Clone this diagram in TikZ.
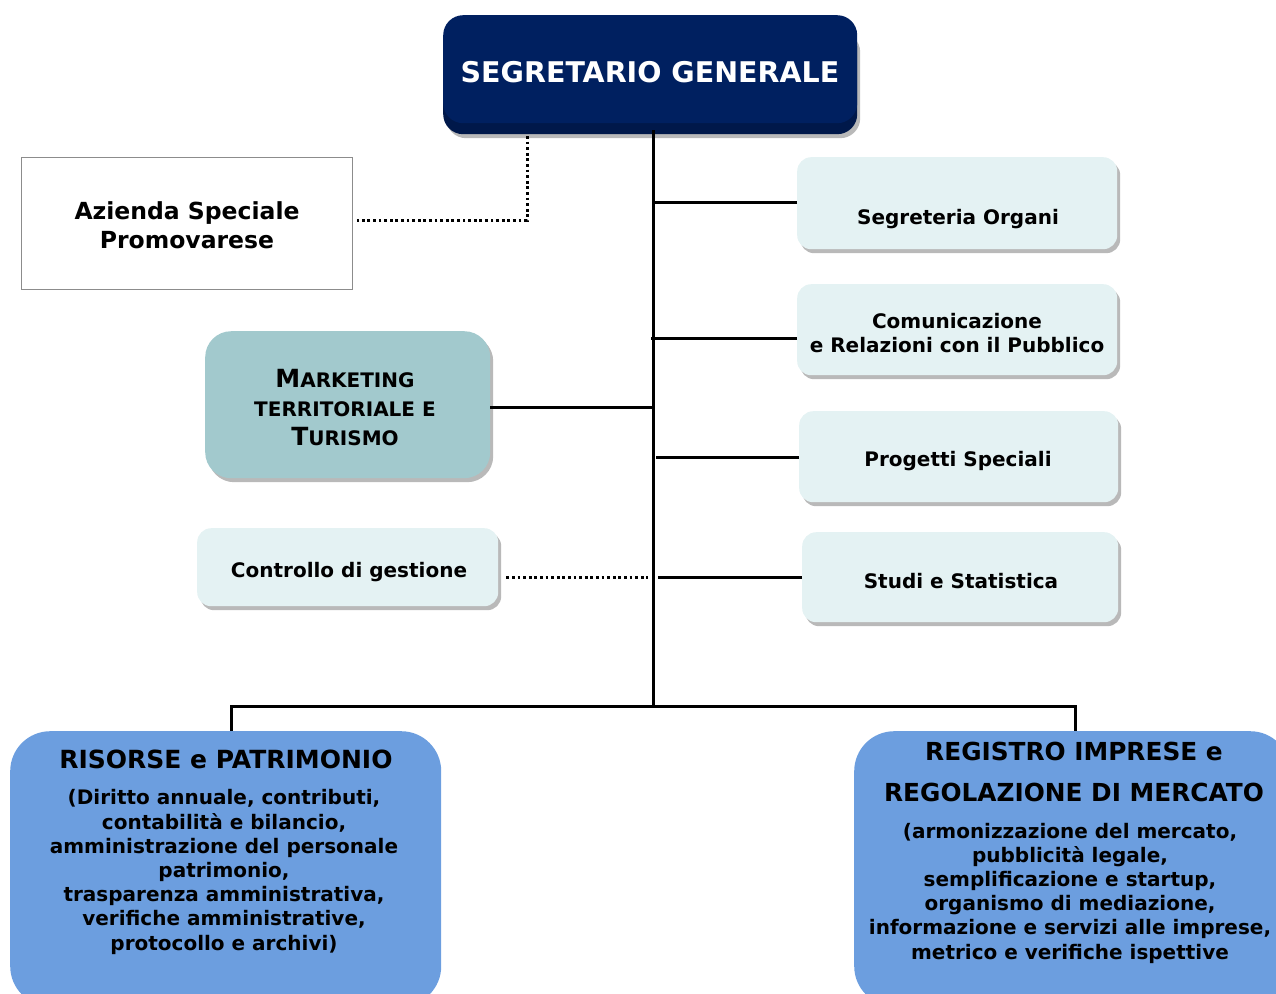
\documentclass[tikz,border=0pt]{standalone}
\usepackage{fontspec}
\setmainfont{DejaVu Sans}
\usetikzlibrary{shadows}
\definecolor{navy}{RGB}{0,32,96}
\definecolor{navydark}{RGB}{0,24,74}
\definecolor{lcyan}{RGB}{228,242,243}
\definecolor{teal}{RGB}{162,201,205}
\definecolor{mblue}{RGB}{108,158,223}
\newcommand{\fs}[2]{\fontsize{#1}{#2}\selectfont}
\begin{document}
\begin{tikzpicture}[x=1pt,y=-1pt,font=\bfseries,
  shd/.style={drop shadow={shadow xshift=3pt,shadow yshift=-4pt,opacity=0.5,fill=black!55}},
  boxbase/.style={inner sep=0pt,anchor=north west},
  lbox/.style={boxbase,fill=lcyan,rounded corners=14pt,shd},
  conn/.style={line width=3pt},
  dotconn/.style={line width=3pt,dash pattern=on 2.8pt off 2.8pt},
  txt/.style={align=center,inner sep=0pt}]
\useasboundingbox (0,0) rectangle (1276,993);
% Segretario generale
\node[boxbase,fill=navydark,rounded corners=20pt,minimum width=414pt,minimum height=106pt,shd] (sgb) at (443,28) {};
\node[boxbase,fill=navy,rounded corners=20pt,minimum width=414pt,minimum height=108pt] (sg) at (443,15) {};
\node[txt,text=white,font=\bfseries\fs{28.5}{34}] (sgt) at (650,72) {SEGRETARIO GENERALE};
% Azienda speciale
\node[boxbase,draw=black!45,line width=0.8pt,fill=white,minimum width=331pt,minimum height=132pt] (az) at (21,157) {};
\node[txt,font=\bfseries\fs{23.5}{29}] (azt) at (187,225) {Azienda Speciale\\Promovarese};
% right boxes
\node[lbox,minimum width=320pt,minimum height=92pt] (seg) at (797,157) {};
\node[txt,font=\bfseries\fs{20}{24}] (segt) at (958,219) {Segreteria Organi};
\node[lbox,minimum width=320pt,minimum height=91pt] (com) at (797,284) {};
\node[txt,font=\bfseries\fs{20}{23.5}] (comt) at (957,333) {Comunicazione\\e Relazioni con il Pubblico};
\node[lbox,minimum width=319pt,minimum height=91pt] (pro) at (799,411) {};
\node[txt,font=\bfseries\fs{20}{24}] (prot) at (958,461) {Progetti Speciali};
\node[lbox,minimum width=316pt,minimum height=90pt] (stu) at (802,532) {};
\node[txt,font=\bfseries\fs{20}{24}] (stut) at (961,581) {Studi e Statistica};
% left boxes
\node[boxbase,fill=teal,rounded corners=26pt,minimum width=285pt,minimum height=147pt,shd] (mkt) at (205,331) {};
\node[txt,font=\bfseries\fs{20}{29}] (mktt) at (345,408) {{\fs{25}{29}M}ARKETING\\TERRITORIALE E\\{\fs{25}{29}T}URISMO};
\node[lbox,minimum width=301pt,minimum height=78pt] (ctl) at (197,528) {};
\node[txt,font=\bfseries\fs{20}{24}] (ctlt) at (349,572) {Controllo di gestione};
% bottom boxes
\node[boxbase,fill=mblue,rounded corners=40pt,minimum width=431pt,minimum height=275pt] (ris) at (10,731) {};
\node[txt,font=\bfseries\fs{25}{30}] (rist) at (226,759) {RISORSE e PATRIMONIO};
\node[txt,font=\bfseries\fs{20}{24.2}] (risb) at (224,872) {(Diritto annuale, contributi,\\contabilità e bilancio,\\amministrazione del personale\\patrimonio,\\trasparenza amministrativa,\\verifiche amministrative,\\protocollo e archivi)};
\node[boxbase,fill=mblue,rounded corners=40pt,minimum width=436pt,minimum height=275pt] (reg) at (854,731) {};
\node[txt,font=\bfseries\fs{24.8}{41}] (regt) at (1074,772) {REGISTRO IMPRESE e\\REGOLAZIONE DI MERCATO};
\node[txt,font=\bfseries\fs{20}{24.2}] (regb) at (1070,893) {(armonizzazione del mercato,\\pubblicità legale,\\semplificazione e startup,\\organismo di mediazione,\\informazione e servizi alle imprese,\\metrico e verifiche ispettive};
% trunk
\coordinate (ttop) at (653,130);
\coordinate (tbot) at (653,706);
\draw[conn] (ttop) -- (tbot);
\draw[conn] (seg.west |- 0,202) -- (653,202);
\draw[conn] (com.west |- 0,338) -- (651,338);
\draw[conn] (pro.west |- 0,457) -- (656,457);
\draw[conn] (stu.west |- 0,577) -- (658,577);
\draw[conn] (mkt.east |- 0,407) -- (653,407);
\draw[dotconn] (ctl.east |- 0,577) ++(8,0) -- (648,577);
\draw[dotconn] (527,136) -- (527,220) -- ([xshift=4pt]az.east |- 0,220);
\draw[conn] (ris.north -| 231,0) -- (231,706) -- (1075,706) -- (reg.north -| 1075,0);
\end{tikzpicture}
\end{document}
